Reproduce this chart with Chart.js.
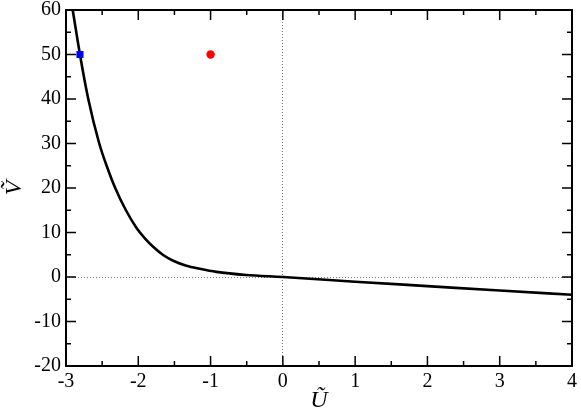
<!DOCTYPE html>
<html>
<head>
<meta charset="utf-8">
<script src="https://cdn.jsdelivr.net/npm/chart.js@4"></script>
<style>
    html, body { margin: 0; padding: 0; background: #fff; }
    #wrap { width: 581px; height: 415px; }
</style>
</head>
<body>
<div id="wrap"><canvas id="curveChart"></canvas></div>
<script>

// ================================
// DATA
// ================================

const curveU = [-2.907, -2.807, -2.692, -2.540, -2.438, -2.319, -2.171, -2.024, -1.909, -1.794, -1.656, -1.518, -1.334, -1.15, -0.92, -0.51, 0, 1, 2, 3, 4];
const curveV = [60, 50, 40, 30, 25, 20, 15, 11.0, 8.7, 6.8, 4.94, 3.66, 2.54, 1.85, 1.15, 0.45, 0, -1.05, -2.05, -3.05, -4.0];

const squareU = [-2.807];
const squareV = [50];

const circleU = [-1.0];
const circleV = [50];

const xTicks = [-3, -2, -1, 0, 1, 2, 3, 4];
const yTicks = [-20, -10, 0, 10, 20, 30, 40, 50, 60];

const toPoints = (us, vs) => us.map((u, i) => ({ x: u, y: vs[i] }));

const tickFont = { family: "'Liberation Serif', 'DejaVu Serif', serif", size: 20 };
const titleFont = { family: "'Liberation Serif', 'DejaVu Serif', serif", size: 24, style: "italic" };

// ================================
// FRAME + INWARD TICKS
// ================================

const framePlugin = {
    id: "frameTicks",
    afterDraw(chart) {
        const { ctx, chartArea: a, scales } = chart;
        const sx = scales.x;
        const sy = scales.y;
        ctx.save();
        ctx.strokeStyle = "#000";
        ctx.lineWidth = 1.5;

        const drawX = (v, len) => {
            const px = sx.getPixelForValue(v);
            ctx.beginPath();
            ctx.moveTo(px, a.bottom); ctx.lineTo(px, a.bottom - len);
            ctx.moveTo(px, a.top); ctx.lineTo(px, a.top + len);
            ctx.stroke();
        };
        const drawY = (v, len) => {
            const py = sy.getPixelForValue(v);
            ctx.beginPath();
            ctx.moveTo(a.left, py); ctx.lineTo(a.left + len, py);
            ctx.moveTo(a.right, py); ctx.lineTo(a.right - len, py);
            ctx.stroke();
        };

        sx.ticks.forEach((t, i) => {
            drawX(t.value, 10);
            if (i < sx.ticks.length - 1) drawX((t.value + sx.ticks[i + 1].value) / 2, 5);
        });
        sy.ticks.forEach((t, i) => {
            drawY(t.value, 10);
            if (i < sy.ticks.length - 1) drawY((t.value + sy.ticks[i + 1].value) / 2, 5);
        });

        ctx.lineWidth = 2;
        ctx.strokeRect(a.left, a.top, a.right - a.left, a.bottom - a.top);
        ctx.restore();
    }
};

// ================================
// CHART
// ================================

const zeroLine = c => (c.tick && c.tick.value === 0) ? "#777" : "rgba(0,0,0,0)";

new Chart(document.getElementById("curveChart"), {
    type: "scatter",
    data: {
        datasets: [
            {
                label: "curve",
                data: toPoints(curveU, curveV),
                showLine: true,
                borderColor: "#000",
                borderWidth: 2.6,
                pointRadius: 0,
                cubicInterpolationMode: "monotone",
                order: 3
            },
            {
                label: "square",
                data: toPoints(squareU, squareV),
                pointStyle: "rect",
                pointRadius: 5,
                backgroundColor: "#0000ff",
                borderColor: "#0000ff",
                borderWidth: 0,
                order: 1
            },
            {
                label: "circle",
                data: toPoints(circleU, circleV),
                pointStyle: "circle",
                pointRadius: 4.2,
                backgroundColor: "#ff0000",
                borderColor: "#ff0000",
                borderWidth: 0,
                order: 2
            }
        ]
    },
    options: {
        responsive: true,
        maintainAspectRatio: false,
        animation: false,
        layout: { padding: { left: 0, right: 8, top: 10, bottom: 0 } },
        plugins: {
            legend: { display: false },
            tooltip: { enabled: false }
        },
        scales: {
            x: {
                type: "linear",
                min: -3,
                max: 4,
                afterBuildTicks: s => { s.ticks = xTicks.map(v => ({ value: v })); },
                afterFit: s => { s.height = 49; },
                border: { display: false, dash: [1, 2] },
                grid: { color: zeroLine, lineWidth: 1, drawTicks: false },
                ticks: { color: "#000", font: tickFont, padding: 4, maxRotation: 0 },
                title: { display: true, text: "Ũ", color: "#000", font: titleFont, padding: { top: 0, bottom: 0 } }
            },
            y: {
                type: "linear",
                min: -20,
                max: 60,
                afterBuildTicks: s => { s.ticks = yTicks.map(v => ({ value: v })); },
                afterFit: s => {
                    s.width = 66;
                    s.paddingTop = 0;
                    s.paddingBottom = 0;
                },
                border: { display: false, dash: [1, 2] },
                grid: { color: zeroLine, lineWidth: 1, drawTicks: false },
                ticks: { color: "#000", font: tickFont, padding: 5 },
                title: { display: true, text: "Ṽ", color: "#000", font: titleFont, padding: { top: 0, bottom: 0 } }
            }
        }
    },
    plugins: [framePlugin]
});

</script>
</body>
</html>
